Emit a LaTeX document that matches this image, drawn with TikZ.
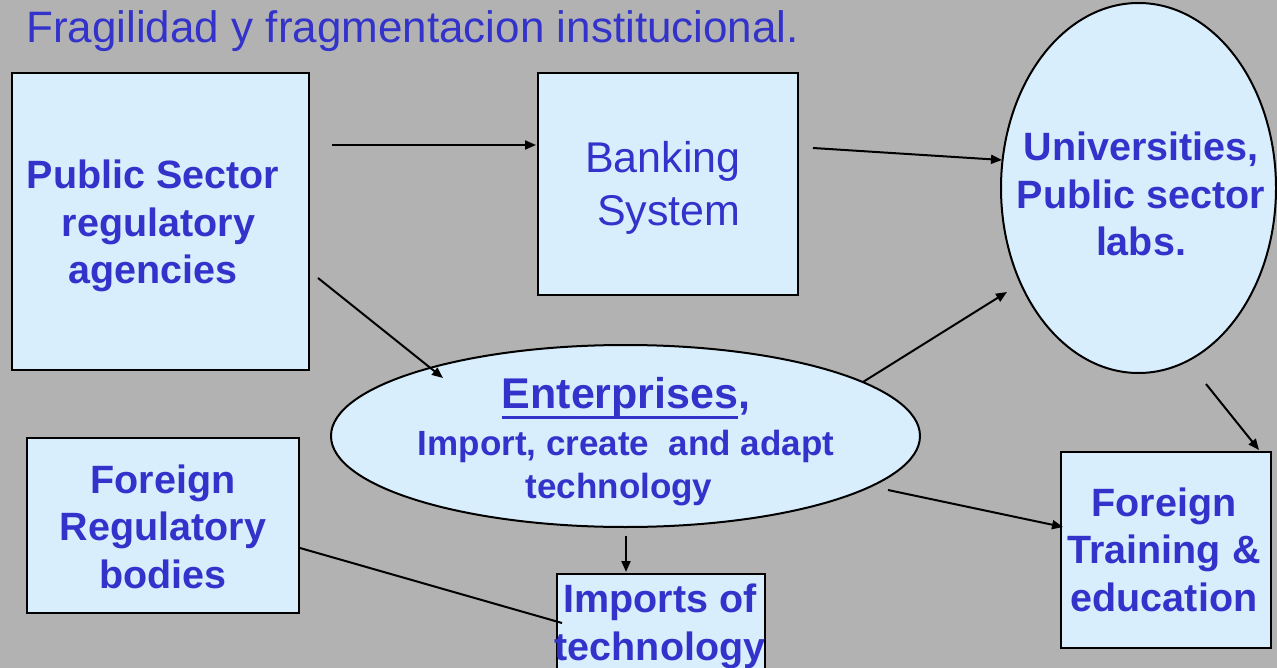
\documentclass[tikz,border=0pt]{standalone}
\usepackage{fontspec}
\setmainfont{Liberation Sans}
\usetikzlibrary{arrows.meta,shapes.geometric}
\definecolor{bg}{RGB}{178,178,178}
\definecolor{boxfill}{RGB}{217,238,252}
\definecolor{txtblue}{RGB}{51,51,204}
\newcommand\entul[1]{\setbox0\hbox{#1}\rlap{\rule[-11.3pt]{\wd0}{3.6pt}}\box0}
\newcommand\lines[1]{\begin{tabular}[t]{@{}c@{}}#1\end{tabular}}
\newcommand\bodyfont{\fontsize{39.5}{47.5}\selectfont\bfseries}
\begin{document}
\begin{tikzpicture}[x=1pt,y=-1pt,
  box/.style={draw=black, line width=2pt, fill=boxfill, inner sep=0pt},
  rbox/.style={box, rectangle, anchor=north west},
  oval/.style={box, ellipse},
  txt/.style={text=txtblue, inner sep=0pt, anchor=base},
  conn/.style={line width=2pt, draw=black},
  arr/.style={conn, -{Triangle[length=11pt,width=9pt]}}]
\path[fill=bg] (0,0) rectangle (1277,668);
\useasboundingbox (0,0) rectangle (1277,668);

% shapes
\node[rbox, minimum width=297pt, minimum height=297pt] (ps) at (11,72) {};
\node[rbox, minimum width=260pt, minimum height=222pt] (bank) at (537,72) {};
\node[oval, minimum width=275pt, minimum height=370pt] (univ) at (1138.5,188) {};
\node[oval, minimum width=589pt, minimum height=182pt] (ent) at (625.5,436) {};
\node[rbox, minimum width=272pt, minimum height=175pt] (freg) at (26,437) {};
\node[rbox, minimum width=208pt, minimum height=130pt] (imp) at (556,573) {};
\node[rbox, minimum width=210pt, minimum height=196pt] (ftr) at (1060,451) {};

% texts
\node[txt, anchor=base west, font=\fontsize{44}{52}\selectfont] (title) at (26,43) {Fragilidad y fragmentacion institucional.};
\node[txt, font=\bodyfont] (pst) at (153,189) {\lines{Public Sector\\\hspace*{0.278em}regulatory\\agencies}};
\node[txt, font=\fontsize{43}{53}\selectfont] (bankt) at (663,173) {\lines{Banking\\\hspace*{0.278em}System}};
\node[txt, font=\bodyfont] (univt) at (1141,161) {\lines{Universities,\\Public sector\\labs.}};
\node[txt, font=\fontsize{35}{43}\selectfont\bfseries] (entt) at (626,408) {\lines{{\fontsize{43}{47}\selectfont\entul{Enterprises},}\\[4pt]Import, create\ \ and adapt\\technology\hspace*{14pt}}};
\node[txt, font=\bodyfont] (fregt) at (163,493) {\lines{Foreign\\Regulatory\\bodies}};
\node[txt, font=\fontsize{39.5}{48}\selectfont\bfseries] (impt) at (660,612) {\lines{Imports of\\technology}};
\node[txt, font=\bodyfont] (ftrt) at (1164,516) {\lines{Foreign\\Training \&\\education}};

% connector end points
\coordinate (a1s) at (332,145);  \coordinate (a1e) at (536,145);
\coordinate (a2s) at (813,148);  \coordinate (a2e) at (1002,160);
\coordinate (a3s) at (318,278);  \coordinate (a3e) at (443,378);
\coordinate (a4s) at (863,382);  \coordinate (a4e) at (1007,292);
\coordinate (a5s) at (1206,384); \coordinate (a5e) at (1259,450);
\coordinate (a6s) at (888,490);  \coordinate (a6e) at (1063,527);
\coordinate (a7s) at (626,536);  \coordinate (a7e) at (626,572);
\coordinate (l8s) at (300,548);  \coordinate (l8e) at (562,623);

\draw[arr] (a1s) -- (a1e);
\draw[arr] (a2s) -- (a2e);
\draw[arr] (a3s) -- (a3e);
\draw[arr] (a4s) -- (a4e);
\draw[arr] (a5s) -- (a5e);
\draw[arr] (a6s) -- (a6e);
\draw[arr] (a7s) -- (a7e);
\draw[conn] (l8s) -- (l8e);
\end{tikzpicture}
\end{document}
